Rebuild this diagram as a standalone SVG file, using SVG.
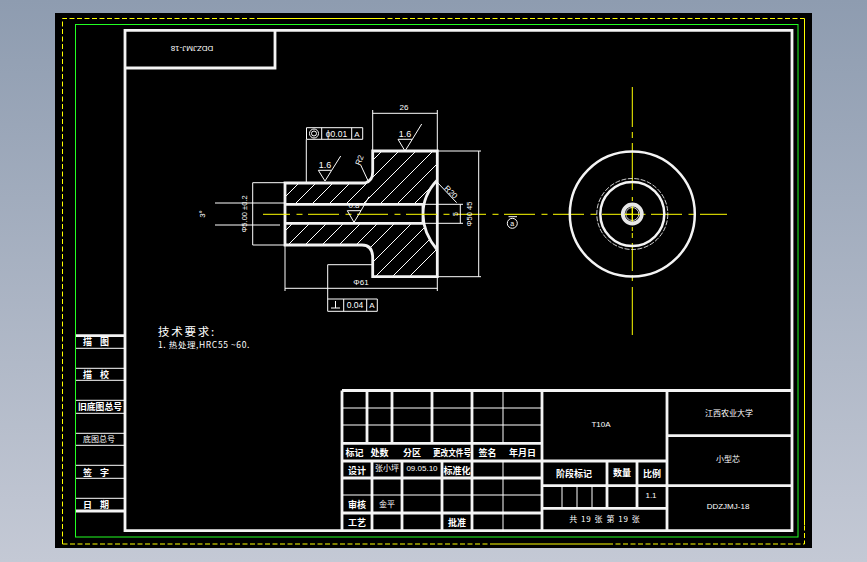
<svg xmlns="http://www.w3.org/2000/svg" width="867" height="562" viewBox="0 0 867 562">
<style>
text{fill:#fff;font-family:"Liberation Sans","Noto Sans CJK SC",sans-serif;font-size:8px;text-anchor:middle}
.b{font-family:"Noto Sans CJK SC",sans-serif;font-weight:700;font-size:9px}
.c{font-family:"Noto Sans CJK SC",sans-serif;font-size:8px}
.t{fill:none;stroke:#f4f4f4;stroke-width:2.8}
.n{fill:none;stroke:#fff;stroke-width:1}
.p{fill:none;stroke:#f2f2f2;stroke-width:2.8}
.y{fill:none;stroke:#ff0;stroke-width:1}
.d{stroke-dasharray:5 2.500}
</style>
<defs>
<linearGradient id="bg" x1="0" y1="0" x2="0" y2="1"><stop offset="0" stop-color="#8e9cb0"/><stop offset="1" stop-color="#c4c9d5"/></linearGradient>
<clipPath id="sec"><path d="M285 183H365Q372.700 181 372.700 172V151H437.300V180Q423 195 423 214Q423 233 437.300 250V276.700H372.700V258Q372.700 245 362 245H285V223.300H423V204.300H285Z"/></clipPath>
</defs>
<rect width="867" height="562" fill="url(#bg)"/>
<rect x="55" y="13" width="757" height="535" fill="#000"/>
<path class="y d" d="M62.500 544V18.500H262M380 18.500H804.500M62.500 544H492M608 544H804.500V525"/>
<path class="y" d="M262 18.500H380M804.500 18.500V525M492 544H608"/>
<rect x="75.500" y="24.500" width="722.500" height="512.500" fill="none" stroke="#2f2" stroke-width="1"/>
<path class="t" d="M125 30.300H792V530.700H125ZM125 68H275V30.300"/>
<path class="t" d="M76 335.700H125M76 511H125"/>
<path class="n" d="M76 348.300H125M76 368.300H125M76 380.300H125M76 400.300H125M76 413.300H125M76 433.300H125M76 445.300H125M76 465.300H125M76 478.300H125M76 498.300H125"/>
<path class="t" d="M342 390.500H792M342 390.500V531M342 443.300H542M342 461H542M342 478H542M342 513H542M367 390.500V443.300M392 390.500V443.300M432 390.500V443.300M472 390.500V531M372 461V531M402 461V531M442 461V531M542 390.500V531"/>
<path class="n" d="M342 408H542M342 425H542M342 495H542M503 390.500V443.300M503 461V531"/>
<path class="t" d="M667 390.500V531M542 461H667M667 435.700H792M542 485.700H792M542 508.300H667M607 461V508.300M637 461V508.300"/>
<path class="n" d="M562 486V508M577 486V508M592 486V508"/>
<text class="b" x="354.500" y="456">标记</text><text class="b" x="379.500" y="456">处数</text><text class="b" x="412" y="456">分区</text><text class="b" x="452" y="456" textLength="38" lengthAdjust="spacingAndGlyphs">更改文件号</text><text class="b" x="487.500" y="456">签名</text><text class="b" x="522.500" y="456">年月日</text>
<text class="b" x="357" y="474">设计</text><text class="b" x="457" y="474">标准化</text><text class="b" x="357" y="508">审核</text><text class="b" x="357" y="526">工艺</text><text class="b" x="457" y="526">批准</text><text class="b" x="574" y="477">阶段标记</text><text class="b" x="622" y="476">数量</text><text class="b" x="652" y="477">比例</text>
<text class="c" x="387" y="471">张小坪</text><text x="422" y="471">09.05.10</text><text class="c" x="387" y="507">金平</text>
<text x="601" y="427">T10A</text><text x="651" y="498">1.1</text><text class="c" x="605" y="522" letter-spacing="1">共 19 张  第 19 张</text>
<text class="c" x="729" y="416">江西农业大学</text><text class="c" x="728" y="462">小型芯</text><text x="728" y="509">DDZJMJ-18</text>
<text x="192" y="48" transform="rotate(180 192 48)" dominant-baseline="middle">DDZJMJ-18</text>
<text class="b" x="100" y="345" letter-spacing="8">描图</text><text class="b" x="100" y="378" letter-spacing="8">描校</text><text class="b" x="100" y="410" textLength="44" lengthAdjust="spacingAndGlyphs">旧底图总号</text><text class="c" x="99" y="442">底图总号</text><text class="b" x="100" y="476" letter-spacing="8">签字</text><text class="b" x="100" y="508" letter-spacing="8">日期</text>
<text class="c" x="187" y="336" style="font-size:11.500px" letter-spacing="1.800">技术要求:</text>
<text class="c" x="204" y="348" style="font-size:8.500px" letter-spacing=".6">1. 热处理,HRC55 ~60.</text>
<g clip-path="url(#sec)"><path class="n" d="M270 195L330 135M270 212L347 135M270 229L364 135M270 246L381 135M270 263L398 135M270 280L415 135M287 280L432 135M304 280L449 135M321 280L466 135M338 280L483 135M355 280L500 135M372 280L517 135M389 280L534 135M406 280L551 135"/></g>
<rect x="285" y="204" width="138" height="20" fill="#000"/>
<path class="p" d="M285 183H365Q372.700 181 372.700 172V151H437.300V276.700H372.700V258Q372.700 245 362 245H285ZM437.300 180Q423 195 423 214Q423 233 437.300 250M285 204.300H423V223.300H285"/>
<path class="y" d="M263 214.300H727" stroke-dasharray="31 6.500 6 5.500" stroke-dashoffset="4"/>
<path class="y" d="M632.300 87V127M632.300 132V138M632.300 143V190M632.300 197V201M632.300 206V222M632.300 227V231M632.300 233V238M632.300 243V271M632.300 275V281M632.300 287V335"/>
<path class="n" d="M372.700 150V110M437.300 150V110M372.700 113.300H437.300M285 246V291M437.300 278V291M285 288.300H437.300M438 151H481M438 276.700H481M478.700 151V276.700M424 204.300H463M424 223.300H463M460.300 204.300V223.300M285 182.700H252.700V245H285M215 203H285M215 225H280M306.300 139.300V182M327.700 299V264.700H372M368 180.700L360.700 165M437 182L456.700 202.700"/>
<path class="n" d="M398 139.300H412.300L405 151L398 139.300M412.300 139.300L421.700 124M318.300 170.300H331.700L325 181L318.300 170.300M331.700 170.300L340.700 156M347.300 210.700H361L354 222.300L347.300 210.700M361 210.700L369 196.700"/>
<path fill="none" stroke="#fff" d="M306.500 127.700H362.700V139.300H306.500ZM321.700 127.700V139.300M351.700 127.700V139.300M327.700 299H377.300V311.300H327.700ZM343.700 299V311.300M366.700 299V311.300M335.500 301V308M331 308H340"/>
<circle cx="314" cy="133.500" r="4.500" class="n"/><circle cx="314" cy="133.500" r="2.500" class="n"/>
<text x="336.500" y="136.500" style="font-size:8.500px">ϕ0.01</text><text x="357" y="136.500">A</text><text x="355" y="308" style="font-size:8.500px">0.04</text><text x="372" y="308">A</text>
<text x="404" y="110">26</text><text x="405" y="136.500" style="font-size:9px">1.6</text><text x="325" y="167.500" style="font-size:9px">1.6</text><text x="354" y="208">0.8</text><text x="361" y="285">Φ61</text>
<text x="362" y="161" transform="rotate(-70 362 161)">R2</text><text x="449" y="194" transform="rotate(45 449 194)">R20</text>
<text x="247" y="214" transform="rotate(-90 247 214)" style="font-size:7.500px">Φ5.00 ±0.2</text><text x="205" y="214" transform="rotate(-90 205 214)">3°</text>
<text x="458" y="214" transform="rotate(-90 458 214)" style="font-size:7px">5</text><text x="472" y="214" transform="rotate(-90 472 214)" style="font-size:7.500px">Φ50 45</text>
<circle cx="512.300" cy="223.300" r="5" class="n"/><path class="n" d="M508.500 216.700H517"/><text x="512.300" y="226" style="font-size:7px">a</text>
<g fill="none"><circle cx="632.300" cy="214" r="62.500" stroke="#f4f4f4" stroke-width="2.500"/><circle cx="632.300" cy="214" r="32" stroke="#f4f4f4" stroke-width="2.500"/><circle cx="632.300" cy="214" r="35.500" stroke="#fff" stroke-width=".8" stroke-dasharray="5 1.500"/><circle cx="632.300" cy="214" r="9.500" stroke="#e8e8e8" stroke-width="3.800"/><circle cx="632.300" cy="214" r="6.500" stroke="#fff" stroke-width=".8"/></g>
<path class="y" d="M625 214.300H640M632.300 207V221"/>
</svg>
